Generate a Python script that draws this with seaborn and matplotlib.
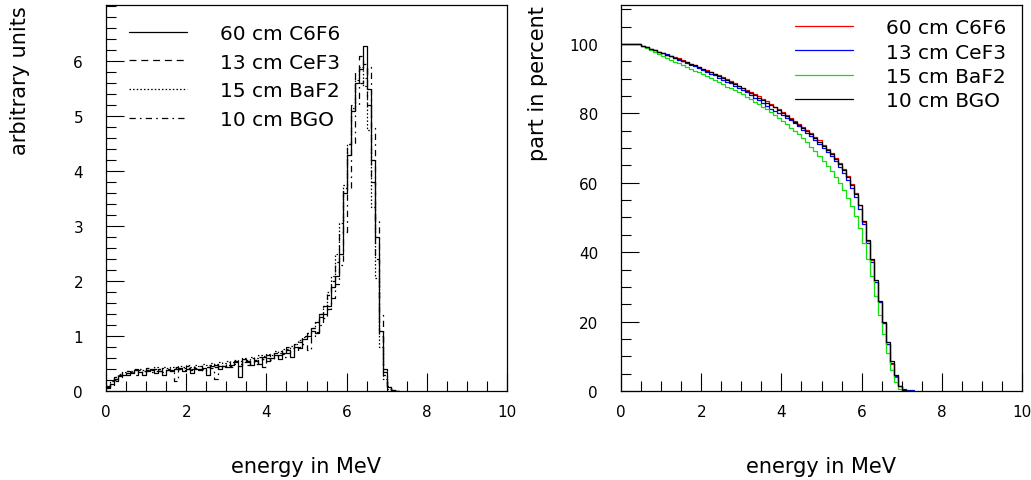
import numpy as np
import pandas as pd
import matplotlib
matplotlib.use("Agg")
import matplotlib.pyplot as plt
from matplotlib.lines import Line2D
from matplotlib.ticker import MultipleLocator
import seaborn as sns

# ---------------- data (bins of 0.1 MeV starting at 0 MeV) ----------------
bin_width = 0.1

# left: energy spectra (arbitrary units)
c6f6_spec = [0.08,0.12,0.22,0.28,0.30,0.33,0.32,0.38,0.35,0.30,
             0.36,0.40,0.33,0.36,0.30,0.38,0.36,0.40,0.42,0.37,
             0.40,0.33,0.40,0.38,0.42,0.30,0.45,0.47,0.40,0.45,
             0.43,0.48,0.52,0.25,0.58,0.55,0.48,0.54,0.50,0.62,
             0.55,0.60,0.65,0.58,0.70,0.75,0.62,0.80,0.78,0.95,
             1.00,1.10,1.05,1.35,1.40,1.55,1.90,2.10,2.50,3.60,
             4.30,5.10,5.60,5.85,6.28,5.50,4.20,2.80,1.10,0.35,
             0.08,0.02,0.00]
cef3_spec = [0.10,0.18,0.25,0.30,0.34,0.36,0.35,0.40,0.38,0.36,
             0.42,0.38,0.40,0.36,0.42,0.40,0.38,0.44,0.40,0.42,
             0.45,0.40,0.42,0.46,0.40,0.44,0.48,0.44,0.50,0.46,
             0.52,0.46,0.55,0.50,0.58,0.52,0.60,0.56,0.62,0.58,
             0.66,0.62,0.70,0.72,0.68,0.80,0.78,0.85,0.90,1.00,
             1.05,1.15,1.25,1.40,1.55,1.75,2.00,2.35,2.90,3.70,
             4.50,5.20,5.80,6.10,5.95,5.20,3.80,2.40,1.00,0.30,
             0.08,0.02,0.00]
baf2_spec = [0.10,0.18,0.26,0.31,0.34,0.36,0.37,0.38,0.40,0.38,
             0.41,0.39,0.43,0.40,0.43,0.41,0.44,0.42,0.46,0.43,
             0.47,0.44,0.48,0.46,0.50,0.47,0.51,0.49,0.53,0.51,
             0.55,0.52,0.57,0.55,0.60,0.57,0.62,0.60,0.65,0.63,
             0.68,0.66,0.72,0.70,0.77,0.76,0.82,0.86,0.92,0.98,
             1.05,1.15,1.25,1.40,1.55,1.80,2.10,2.50,3.05,3.75,
             4.50,5.15,5.65,5.90,5.55,4.75,3.35,2.05,0.80,0.22,
             0.04,0.00,0.00]
bgo_spec = [0.05,0.10,0.18,0.25,0.28,0.30,0.34,0.30,0.36,0.33,
            0.38,0.34,0.37,0.40,0.35,0.38,0.36,0.18,0.40,0.38,
            0.42,0.38,0.44,0.40,0.36,0.44,0.42,0.22,0.46,0.44,
            0.48,0.44,0.50,0.46,0.52,0.48,0.55,0.50,0.58,0.44,
            0.60,0.56,0.62,0.66,0.62,0.70,0.74,0.72,0.80,0.86,
            0.74,1.00,1.08,1.20,1.32,1.50,1.70,1.95,2.30,2.90,
            3.70,4.50,5.20,5.60,5.70,5.90,4.80,3.10,1.40,0.40,
            0.10,0.02,0.00]

# right: part of the spectrum above a given energy (percent)
c6f6_part = [100.0,100.0,100.0,100.0,100.0,99.4,99.0,98.6,98.1,97.7,
             97.3,96.9,96.6,96.2,95.8,95.3,94.8,94.3,93.9,93.4,
             92.9,92.4,91.9,91.4,90.9,90.4,89.8,89.3,88.7,88.0,
             87.4,86.7,86.1,85.5,84.9,84.2,83.5,82.7,81.9,81.1,
             80.3,79.5,78.7,77.8,76.9,76.1,75.2,74.3,73.3,72.2,
             71.0,69.8,68.5,67.2,65.7,64.0,62.0,59.6,57.0,53.5,
             48.8,43.2,37.6,31.5,25.5,19.5,13.5,7.8,4.0,1.3,
             0.2,0.0,0.0]
cef3_part = [100.0,100.0,100.0,100.0,100.0,99.4,99.0,98.6,98.1,97.7,
             97.4,97.0,96.5,95.9,95.4,95.0,94.5,94.0,93.5,93.0,
             92.5,92.0,91.4,90.9,90.3,89.7,89.1,88.6,88.0,87.4,
             86.8,86.0,85.3,84.5,83.7,82.9,82.1,81.3,80.6,80.0,
             79.4,78.7,78.0,77.2,76.3,75.3,74.4,73.4,72.3,71.2,
             70.1,68.9,67.6,66.2,64.6,62.9,60.9,58.6,55.9,52.5,
             48.0,42.7,37.3,31.5,25.5,19.5,13.5,8.0,4.2,1.4,
             0.5,0.4,0.3]
baf2_part = [100.0,100.0,100.0,100.0,100.0,99.3,98.8,98.2,97.6,97.0,
             96.4,95.9,95.4,94.9,94.4,93.8,93.4,92.8,92.3,91.8,
             91.3,90.7,90.1,89.5,88.9,88.3,87.7,87.2,86.6,86.0,
             85.5,84.8,84.1,83.4,82.7,81.9,81.1,80.3,79.5,78.6,
             77.7,76.8,75.9,74.9,73.9,72.8,71.6,70.4,69.1,67.8,
             66.4,64.9,63.3,61.6,59.8,57.8,55.6,53.3,50.5,47.0,
             42.5,38.0,33.0,27.5,22.0,16.5,11.0,6.0,2.5,0.6,
             0.1,0.0,0.0]
bgo_part = [100.0,100.0,100.0,100.0,100.0,99.4,99.0,98.6,98.1,97.7,
            97.3,96.9,96.5,96.0,95.6,95.2,94.7,94.3,93.8,93.3,
            92.8,92.3,91.8,91.3,90.7,90.1,89.5,89.0,88.4,87.8,
            87.2,86.5,85.9,85.2,84.5,83.8,83.1,82.4,81.7,80.9,
            80.1,79.3,78.5,77.6,76.7,75.8,74.9,73.9,72.9,71.8,
            70.7,69.5,68.2,66.8,65.3,63.6,61.6,59.3,56.8,53.5,
            49.0,43.5,38.0,32.0,26.0,20.0,14.0,8.5,4.5,1.5,
            0.3,0.0,0.0]

labels = ["60 cm C6F6", "13 cm CeF3", "15 cm BaF2", "10 cm BGO"]
left_series = [c6f6_spec, cef3_spec, baf2_spec, bgo_spec]
right_series = [c6f6_part, cef3_part, baf2_part, bgo_part]

x_ticks = [0, 2, 4, 6, 8, 10]
left_yticks = [0, 1, 2, 3, 4, 5, 6]
right_yticks = [0, 20, 40, 60, 80, 100]

# ---------------- style ----------------
sns.set_theme(style="white")
plt.rcParams["font.family"] = ["DejaVu Sans"]
plt.rcParams["lines.scale_dashes"] = False
plt.rcParams["text.color"] = "black"
plt.rcParams["xtick.color"] = "black"
plt.rcParams["ytick.color"] = "black"
plt.rcParams["xtick.labelcolor"] = "black"
plt.rcParams["ytick.labelcolor"] = "black"

left_styles = ["-", (0, (5, 3.5)), (0, (1.1, 1.5)), (0, (4.5, 3, 1.2, 3))]
right_colors = ["#ff0000", "#0000ff", "#10e010", "#000000"]

W, H = 1031, 481
fig = plt.figure(figsize=(W / 100, H / 100), dpi=100)
ax1 = fig.add_axes([106/W, 1 - 392/H, (507-106)/W, (392-6)/H])
ax2 = fig.add_axes([621/W, 1 - 392/H, (1022-621)/W, (392-6)/H])

def make_frame(vals):
    n = len(vals)
    centers = (np.arange(n) + 0.5) * bin_width
    return pd.DataFrame({"energy": centers, "w": vals}), n * bin_width

for vals, ls in zip(left_series, left_styles):
    df, top = make_frame(vals)
    sns.histplot(data=df, x="energy", weights="w", binwidth=bin_width,
                 binrange=(0, top), element="step", fill=False,
                 color="black", linewidth=0.9, linestyle=ls, ax=ax1)

for vals, col in zip(right_series, right_colors):
    df, top = make_frame(vals)
    sns.histplot(data=df, x="energy", weights="w", binwidth=bin_width,
                 binrange=(0, top), element="step", fill=False,
                 color=col, linewidth=0.9, ax=ax2)

for ax, yt, ylim, ymin in [(ax1, left_yticks, 7.02, 0.2), (ax2, right_yticks, 111.2, 5)]:
    ax.set_xlim(0, 10)
    ax.set_ylim(0, ylim)
    ax.set_xticks(x_ticks)
    ax.set_xticklabels([str(t) for t in x_ticks])
    ax.set_yticks(yt)
    ax.set_yticklabels([str(t) for t in yt])
    ax.xaxis.set_minor_locator(MultipleLocator(0.5))
    ax.yaxis.set_minor_locator(MultipleLocator(ymin))
    ax.tick_params(which="both", direction="in", top=False, right=False,
                   bottom=True, left=True, width=0.8, colors="black",
                   labelcolor="black")
    ax.tick_params(which="major", length=13)
    ax.tick_params(which="minor", length=7)
    ax.tick_params(axis="y", which="major", pad=16.5, labelsize=11)
    ax.tick_params(axis="x", which="major", pad=9.5, labelsize=11)
    ax.set_xlabel("")
    ax.set_ylabel("")
    for s in ax.spines.values():
        s.set_color("black")
        s.set_linewidth(0.9)
        s.set_visible(True)
    ax.set_facecolor("white")

# legends
h1 = [Line2D([], [], color="black", lw=0.9, ls=ls) for ls in left_styles]
leg1 = ax1.legend(h1, labels, loc="upper left", bbox_to_anchor=(0.037, 0.972),
                  frameon=False, fontsize=14.5, handlelength=2.9, handletextpad=1.6,
                  labelspacing=0.48, borderaxespad=0)
h2 = [Line2D([], [], color=c, lw=0.9) for c in right_colors]
leg2 = ax2.legend(h2, labels, loc="upper left", bbox_to_anchor=(0.414, 0.987),
                  frameon=False, fontsize=14.5, handlelength=2.9, handletextpad=1.6,
                  labelspacing=0.27, borderaxespad=0)
for leg in (leg1, leg2):
    for t in leg.get_texts():
        t.set_color("black")

# axis titles
fig.text(20/W, 1 - 6/H, "arbitrary units", rotation=90, ha="center", va="top",
         fontsize=15, color="black")
fig.text(538/W, 1 - 6/H, "part in percent", rotation=90, ha="center", va="top",
         fontsize=15, color="black")
fig.text(306/W, 1 - 467/H, "energy in MeV", ha="center", va="center",
         fontsize=15, color="black")
fig.text(821/W, 1 - 467/H, "energy in MeV", ha="center", va="center",
         fontsize=15, color="black")

fig.savefig("out.png", dpi=100, facecolor="white")
